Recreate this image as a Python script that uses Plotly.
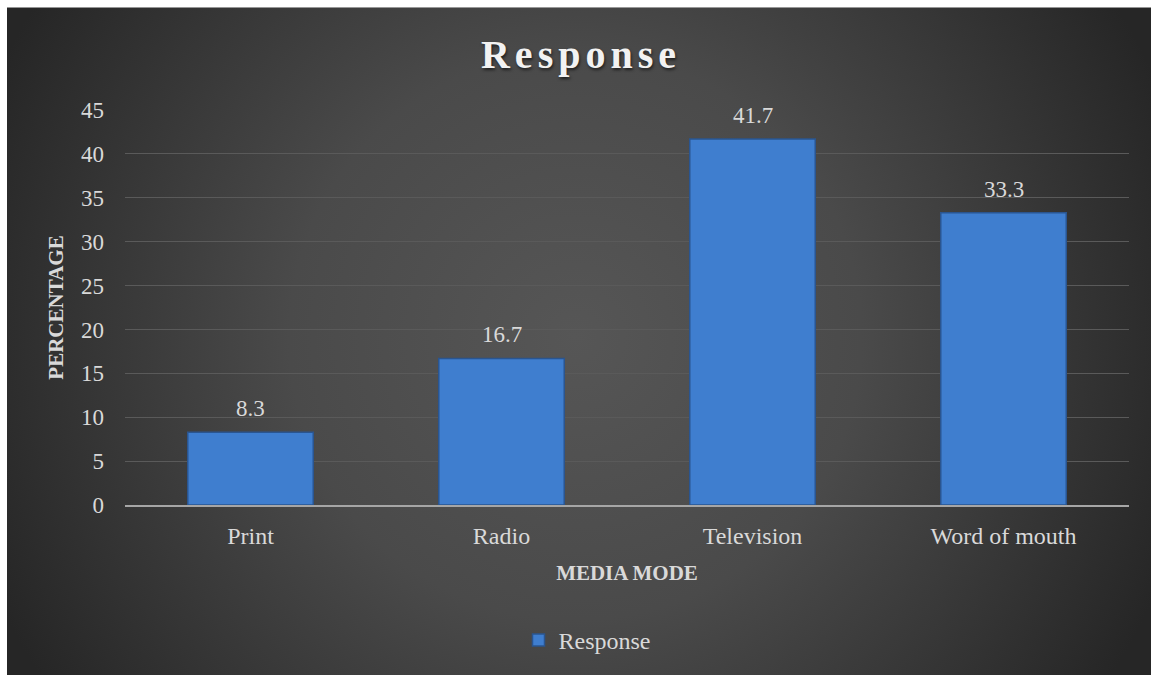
import base64
import plotly.graph_objects as go

categories = ["Print", "Radio", "Television", "Word of mouth"]
values = [8.3, 16.7, 41.7, 33.3]
labels = ["8.3", "16.7", "41.7", "33.3"]
y_ticks = [0, 5, 10, 15, 20, 25, 30, 35, 40, 45]

W, H = 1151, 675
ML, MR, MT, MB = 125, 22, 110, 168
plot_w = W - ML - MR
plot_h = H - MT - MB

# background gradient (Excel-like dark radial)
svg = """<svg xmlns='http://www.w3.org/2000/svg' width='1160' height='680' viewBox='0 0 1160 680' preserveAspectRatio='none'>
<defs><radialGradient id='g' gradientUnits='userSpaceOnUse' cx='572' cy='334' r='640'>
<stop offset='0' stop-color='#565656'/>
<stop offset='0.45' stop-color='#4a4a4a'/>
<stop offset='1' stop-color='#262626'/>
</radialGradient></defs>
<rect width='1160' height='680' fill='url(#g)'/></svg>"""
bg_src = "data:image/svg+xml;base64," + base64.b64encode(svg.encode()).decode()

text_col = "#d9d9d9"
serif = "Liberation Serif"

fig = go.Figure()
fig.add_trace(go.Bar(
    x=categories, y=values, name="Response", width=0.5,
    marker=dict(color="#3F7ECF", line=dict(color="#2A5590", width=1.5)),
    showlegend=True,
))

for c, v, t in zip(categories, values, labels):
    fig.add_annotation(x=c, y=v, text=t, showarrow=False, yanchor="bottom",
                       yshift=9, font=dict(family=serif, size=23, color=text_col))

fig.add_layout_image(dict(
    source=bg_src, xref="paper", yref="paper",
    x=(7 - ML) / plot_w, y=(MT + plot_h - 7) / plot_h,
    sizex=(1160 - 7) / plot_w, sizey=(680 - 7) / plot_h,
    xanchor="left", yanchor="top", sizing="stretch", layer="below",
))

# white page margin on top and left of the chart area
fig.add_shape(type="rect", xref="paper", yref="paper", layer="above",
              x0=(0 - ML) / plot_w - 0.01, x1=(7 - ML) / plot_w,
              y0=(MT + plot_h - H) / plot_h - 0.05, y1=(MT + plot_h) / plot_h + 0.05,
              fillcolor="white", line=dict(width=0))
fig.add_shape(type="rect", xref="paper", yref="paper", layer="above",
              x0=(0 - ML) / plot_w - 0.01, x1=(W - ML) / plot_w + 0.05,
              y0=(MT + plot_h - 7) / plot_h, y1=(MT + plot_h) / plot_h + 0.05,
              fillcolor="white", line=dict(width=0))

fig.update_layout(
    width=W, height=H,
    margin=dict(l=ML, r=MR, t=MT, b=MB),
    paper_bgcolor="#2a2a2a",
    plot_bgcolor="rgba(0,0,0,0)",
    title=dict(
        text="<span style='letter-spacing:5px'>Response</span>",
        x=581 / W, xanchor="center", xref="container",
        y=1 - 54 / H, yanchor="middle", yref="container",
        font=dict(family=serif, size=40, color="#f2f2f2", weight="bold",
                  shadow="1px 2px 3px rgba(0,0,0,0.6)"),
    ),
    xaxis=dict(
        showline=True, linecolor="#a6a6a6", linewidth=2,
        showgrid=False, ticks="", ticklabelstandoff=8,
        tickfont=dict(family=serif, size=24, color=text_col),
        title=dict(text="<b>MEDIA MODE</b>", standoff=18,
                   font=dict(family=serif, size=21, color=text_col)),
    ),
    yaxis=dict(
        range=[0, 45], tickvals=y_ticks, showgrid=True,
        gridcolor="#5a5a5a", gridwidth=1, zeroline=False,
        ticks="", ticklabelstandoff=20,
        tickfont=dict(family=serif, size=23, color=text_col),
        title=dict(text="<b>PERCENTAGE</b>", standoff=11,
                   font=dict(family=serif, size=21, color=text_col)),
    ),
    legend=dict(
        orientation="h", x=(587 - ML) / plot_w, xanchor="center",
        y=(MT + plot_h - 643) / plot_h, yanchor="middle",
        font=dict(family=serif, size=24, color=text_col),
        bgcolor="rgba(0,0,0,0)", itemwidth=30,
    ),
    bargap=0.5,
)

fig.write_html("out.html")
